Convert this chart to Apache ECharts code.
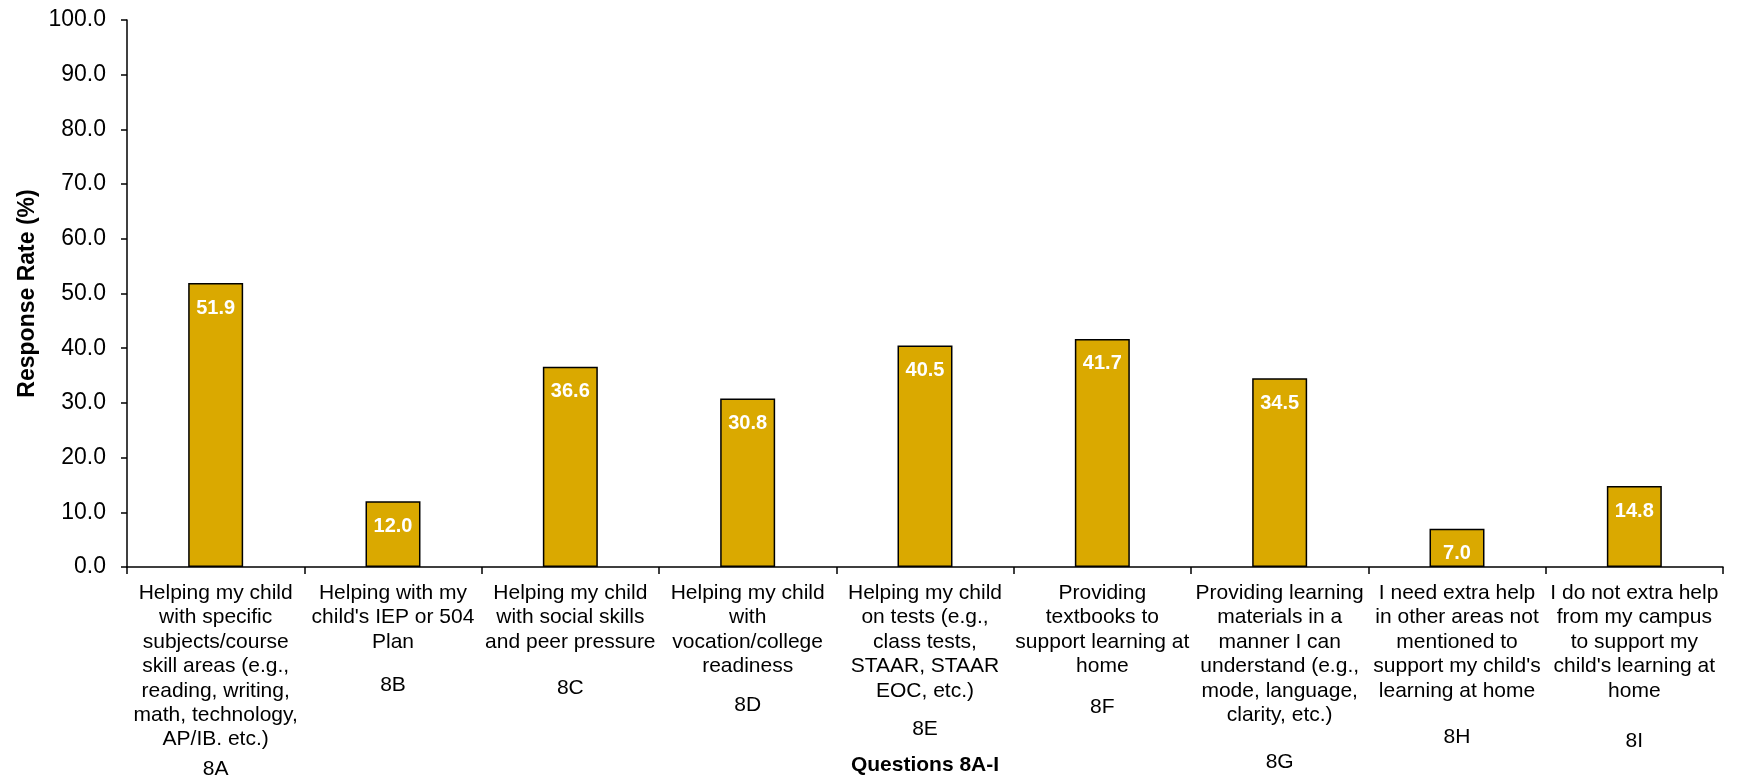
<!DOCTYPE html>
<html>
<head>
<meta charset="utf-8">
<title>Response Rate by Question 8A-I</title>
<script src="https://cdn.jsdelivr.net/npm/echarts@6/dist/echarts.min.js"></script>
<style>
  html, body { margin: 0; padding: 0; background: #ffffff; }
  #chart { width: 1739px; height: 780px; }
</style>
</head>
<body>
<div id="chart"></div>
<script>
// Question wording, one entry per category (line breaks as printed)
const questions = [
  'Helping my child\nwith specific\nsubjects/course\nskill areas (e.g.,\nreading, writing,\nmath, technology,\nAP/IB. etc.)',
  'Helping with my\nchild\'s IEP or 504\nPlan',
  'Helping my child\nwith social skills\nand peer pressure',
  'Helping my child\nwith\nvocation/college\nreadiness',
  'Helping my child\non tests (e.g.,\nclass tests,\nSTAAR, STAAR\nEOC, etc.)',
  'Providing\ntextbooks to\nsupport learning at\nhome',
  'Providing learning\nmaterials in a\nmanner I can\nunderstand (e.g.,\nmode, language,\nclarity, etc.)',
  'I need extra help\nin other areas not\nmentioned to\nsupport my child\'s\nlearning at home',
  'I do not extra help\nfrom my campus\nto support my\nchild\'s learning at\nhome'
];

// Question codes
const codes = ['8A', '8B', '8C', '8D', '8E', '8F', '8G', '8H', '8I'];

// Response rate (%) for each question
const responseRate = [51.9, 12.0, 36.6, 30.8, 40.5, 41.7, 34.5, 7.0, 14.8];

// Y axis range and step
const yMin = 0;
const yMax = 100;
const yStep = 10;

// Layout: spacing (px) between the wording and the code under each category
const codeGap = [30, 43, 46, 39, 38, 41, 47, 46, 50];

const FONT = '"Liberation Sans", Arial, Helvetica, sans-serif';
const LINE_H = 24.4;

const rich = {};
codeGap.forEach(function (g, i) {
  rich['c' + i] = {
    fontFamily: FONT,
    fontSize: 21,
    color: '#000000',
    lineHeight: 2 * (g - LINE_H / 2)
  };
});

const chart = echarts.init(document.getElementById('chart'), null, { renderer: 'canvas' });

chart.setOption({
  animation: false,
  backgroundColor: '#ffffff',
  grid: {
    left: 127,
    right: 16,
    top: 20,
    bottom: 213,
    containLabel: false,
    outerBoundsMode: 'none'
  },
  xAxis: {
    type: 'category',
    data: questions,
    name: 'Questions 8A-I',
    nameLocation: 'middle',
    nameGap: 188,
    nameMoveOverlap: false,
    nameTextStyle: {
      fontFamily: FONT,
      fontSize: 21,
      fontWeight: 'bold',
      color: '#000000'
    },
    axisLine: { show: true, lineStyle: { color: '#000000', width: 1.5 } },
    axisTick: { show: true, length: 7, lineStyle: { color: '#000000', width: 1.5 } },
    axisLabel: {
      interval: 0,
      margin: 14,
      fontFamily: FONT,
      fontSize: 21,
      lineHeight: LINE_H,
      color: '#000000',
      align: 'center',
      formatter: function (value, index) {
        return value + '\n{c' + index + '|' + codes[index] + '}';
      },
      rich: rich
    },
    splitLine: { show: false }
  },
  yAxis: {
    type: 'value',
    min: yMin,
    max: yMax,
    interval: yStep,
    name: 'Response Rate (%)',
    nameLocation: 'middle',
    nameRotate: 90,
    nameGap: 88,
    nameMoveOverlap: false,
    nameTextStyle: {
      fontFamily: FONT,
      fontSize: 23,
      fontWeight: 'bold',
      color: '#000000'
    },
    axisLine: { show: true, lineStyle: { color: '#000000', width: 1.5 } },
    axisTick: { show: true, inside: false, length: 6, lineStyle: { color: '#000000', width: 1.5 } },
    axisLabel: {
      margin: 21,
      fontFamily: FONT,
      fontSize: 23,
      color: '#000000',
      formatter: function (v) { return v.toFixed(1); }
    },
    splitLine: { show: false }
  },
  series: [{
    type: 'bar',
    data: responseRate,
    barWidth: '31%',
    itemStyle: {
      color: '#DAA900',
      borderColor: '#000000',
      borderWidth: 1.5
    },
    label: {
      show: true,
      position: 'insideTop',
      distance: 15,
      fontFamily: FONT,
      fontSize: 20,
      fontWeight: 'bold',
      color: '#ffffff',
      formatter: function (p) { return p.value.toFixed(1); }
    }
  }]
});
</script>
</body>
</html>
